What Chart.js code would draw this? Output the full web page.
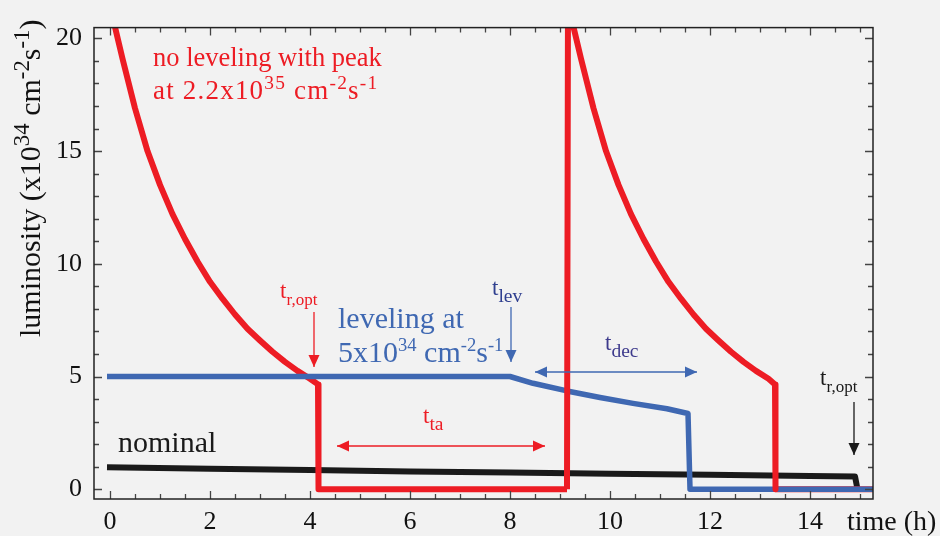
<!DOCTYPE html>
<html>
<head>
<meta charset="utf-8">
<script src="https://cdn.jsdelivr.net/npm/chart.js@4.4.1/dist/chart.umd.min.js"></script>
<style>
  html, body { margin:0; padding:0; background:#f2f2f2; }
  canvas { display:block; }
</style>
</head>
<body>
<canvas id="lumi" width="940" height="536"></canvas>
<script>
// Data (time in h, luminosity in 1e34 cm-2 s-1)
// no leveling, first fill + turnaround
const redAT  = [0.0, 0.1, 0.25, 0.5, 0.75, 1.0, 1.25, 1.5, 1.75, 2.0, 2.25, 2.5, 2.75, 3.0, 3.25, 3.5, 3.75, 4.0, 4.16, 4.17, 9.14];
const redAL  = [22.0, 20.5, 19.1, 16.9, 15.0, 13.5, 12.2, 11.1, 10.1, 9.2, 8.45, 7.75, 7.12, 6.6, 6.1, 5.65, 5.25, 4.9, 4.65, 0, 0];
// no leveling, second fill
const redBT  = [9.14, 9.16, 9.27, 9.42, 9.67, 9.92, 10.17, 10.42, 10.67, 10.92, 11.17, 11.42, 11.67, 11.92, 12.17, 12.42, 12.67, 12.92, 13.17, 13.3, 13.31];
const redBL  = [0, 22.0, 20.5, 19.1, 16.9, 15.0, 13.5, 12.2, 11.1, 10.1, 9.2, 8.45, 7.75, 7.12, 6.6, 6.1, 5.65, 5.25, 4.9, 4.65, 0];
const redCT  = [13.31, 15.3];
const redCL  = [0, 0];
const blueT  = [-0.06, 8.0, 8.46, 9.14, 9.8, 10.46, 11.14, 11.56, 11.6, 15.3];
const blueL  = [5.0, 5.0, 4.7, 4.36, 4.07, 3.81, 3.57, 3.36, 0, 0];
const blackT = [-0.06, 2, 4, 6, 8, 10, 12, 14, 14.9, 14.95];
const blackL = [0.97, 0.91, 0.85, 0.79, 0.74, 0.69, 0.64, 0.59, 0.57, 0];
const xTicks = [0, 2, 4, 6, 8, 10, 12, 14];
const yTicks = [0, 5, 10, 15, 20];

const C = { red:'#ed1c24', blue:'#3f68b2', black:'#1a1a1a', navy:'#2f3f8f', violet:'#3d3a8c', bg:'#f2f2f2' };
const SERIF = '"Liberation Serif", "DejaVu Serif", serif';

const pts = (t, l) => t.map((v, i) => ({ x:v, y:l[i] }));

// rich text with sup/sub pieces
function rich(ctx, x, y, parts, size, color, ratio, spacing) {
  ratio = ratio || 0.7;
  let cx = x;
  ctx.save();
  ctx.fillStyle = color;
  ctx.textBaseline = 'alphabetic';
  ctx.textAlign = 'left';
  if (spacing) ctx.letterSpacing = spacing + 'px';
  parts.forEach(p => {
    const t = p[0], k = p[1];
    const s = k ? size * ratio : size;
    const dy = k === 'sup' ? -size * 0.38 : k === 'sub' ? size * 0.3 : 0;
    ctx.font = s + 'px ' + SERIF;
    ctx.fillText(t, cx, y + dy);
    cx += ctx.measureText(t).width;
  });
  ctx.restore();
}

function head(ctx, x, y, ang, color) {
  const L = 12, W = 5.5;
  ctx.save();
  ctx.translate(x, y); ctx.rotate(ang);
  ctx.fillStyle = color;
  ctx.beginPath(); ctx.moveTo(0, 0); ctx.lineTo(-L, -W); ctx.lineTo(-L, W); ctx.closePath(); ctx.fill();
  ctx.restore();
}

function arrow(ctx, x1, y1, x2, y2, color, both) {
  const ang = Math.atan2(y2 - y1, x2 - x1);
  ctx.save();
  ctx.strokeStyle = color; ctx.lineWidth = 1.3;
  ctx.beginPath(); ctx.moveTo(x1, y1); ctx.lineTo(x2, y2); ctx.stroke();
  ctx.restore();
  head(ctx, x2, y2, ang, color);
  if (both) head(ctx, x1, y1, ang + Math.PI, color);
}

const decor = {
  id:'decor',
  beforeDraw(chart) {
    const ctx = chart.ctx;
    ctx.save(); ctx.fillStyle = C.bg; ctx.fillRect(0, 0, chart.width, chart.height); ctx.restore();
  },
  afterDraw(chart) {
    const ctx = chart.ctx, a = chart.chartArea, xs = chart.scales.x, ys = chart.scales.y;
    ctx.save();
    // inward ticks on all four sides
    ctx.strokeStyle = '#444'; ctx.lineWidth = 1.3;
    ctx.beginPath();
    for (let v = 0; v <= 15; v += 0.5) {
      const px = Math.round(xs.getPixelForValue(v)) + 0.5;
      const len = v % 2 === 0 ? 8 : 5;
      ctx.moveTo(px, a.bottom); ctx.lineTo(px, a.bottom - len);
      ctx.moveTo(px, a.top); ctx.lineTo(px, a.top + len);
    }
    for (let v = 0; v <= 20; v += 1) {
      const py = Math.round(ys.getPixelForValue(v)) + 0.5;
      const len = v % 5 === 0 ? 8 : 5;
      ctx.moveTo(a.left, py); ctx.lineTo(a.left + len, py);
      ctx.moveTo(a.right, py); ctx.lineTo(a.right - len, py);
    }
    ctx.stroke();
    // frame
    ctx.strokeStyle = '#222'; ctx.lineWidth = 1.5;
    ctx.strokeRect(a.left, a.top, a.right - a.left, a.bottom - a.top);

    // axis titles
    rich(ctx, 847, 530, [['time (h)']], 28, '#111');
    ctx.save();
    ctx.translate(40, 337); ctx.rotate(-Math.PI / 2);
    rich(ctx, 0, 0, [['luminosity (x10'], ['34', 'sup'], [' cm'], ['-2', 'sup'], ['s'], ['-1', 'sup'], [')']], 30, '#111', 0.76);
    ctx.restore();

    // curve labels
    rich(ctx, 153, 66, [['no leveling with peak']], 26.5, C.red);
    rich(ctx, 153, 99, [['at 2.2x10'], ['35', 'sup'], [' cm'], ['-2', 'sup'], ['s'], ['-1', 'sup']], 27, C.red, 0.72, 1.2);
    rich(ctx, 338, 328, [['leveling at']], 30, C.blue);
    rich(ctx, 338, 362, [['5x10'], ['34', 'sup'], [' cm'], ['-2', 'sup'], ['s'], ['-1', 'sup']], 30, C.blue, 0.62);
    rich(ctx, 118, 452, [['nominal']], 30, C.black);

    // time markers
    rich(ctx, 280, 298, [['t'], ['r,opt', 'sub']], 23, C.red, 0.74);
    arrow(ctx, 314, 312, 314, 367, C.red);
    rich(ctx, 492, 295, [['t'], ['lev', 'sub']], 23, C.navy, 0.85);
    arrow(ctx, 511, 307, 511, 362, C.blue);
    rich(ctx, 605, 350, [['t'], ['dec', 'sub']], 23, C.violet, 0.85);
    arrow(ctx, 535, 372, 697, 372, C.blue, true);
    rich(ctx, 423, 423, [['t'], ['ta', 'sub']], 23, C.red, 0.85);
    arrow(ctx, 337, 446, 545, 446, C.red, true);
    rich(ctx, 820, 385, [['t'], ['r,opt', 'sub']], 23, C.black, 0.74);
    arrow(ctx, 854, 402, 854, 455, C.black);
    ctx.restore();
  }
};

new Chart(document.getElementById('lumi'), {
  type:'line',
  data:{ datasets:[
    { label:'nominal', data:pts(blackT, blackL), borderColor:C.black, borderWidth:6, order:5 },
    { label:'no leveling (tail)', data:pts(redCT, redCL), borderColor:C.red, borderWidth:6, order:4 },
    { label:'no leveling', data:pts(redAT, redAL), borderColor:C.red, borderWidth:6, order:3 },
    { label:'leveling', data:pts(blueT, blueL), borderColor:C.blue, borderWidth:5.5, order:2 },
    { label:'no leveling (2nd fill)', data:pts(redBT, redBL), borderColor:C.red, borderWidth:6, order:1 }
  ]},
  options:{
    responsive:false, animation:false, devicePixelRatio:1,
    layout:{ padding:{ left:0, top:16, right:67, bottom:0 } },
    elements:{ point:{ radius:0 }, line:{ tension:0, borderJoinStyle:'round', borderCapStyle:'butt' } },
    datasets:{ line:{ clip:0 } },
    plugins:{ legend:{ display:false }, tooltip:{ enabled:false } },
    scales:{
      x:{ type:'linear', min:-0.32, max:15.26,
          afterFit:s => { s.height = 37; },
          afterBuildTicks:s => { s.ticks = xTicks.map(v => ({ value:v })); },
          grid:{ display:false, drawTicks:false }, border:{ display:false },
          ticks:{ padding:8, color:'#111', font:{ family:SERIF, size:26 } } },
      y:{ min:-0.433, max:20.476,
          afterFit:s => { s.width = 94; },
          afterBuildTicks:s => { s.ticks = yTicks.map(v => ({ value:v })); },
          grid:{ display:false, drawTicks:false }, border:{ display:false },
          ticks:{ padding:12, color:'#111', font:{ family:SERIF, size:26 } } }
    }
  },
  plugins:[decor]
});
</script>
</body>
</html>
